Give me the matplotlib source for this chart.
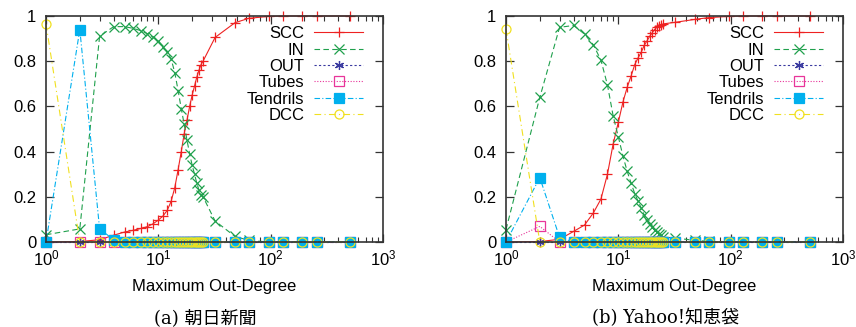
import numpy as np
import matplotlib
matplotlib.use("Agg")
import matplotlib.pyplot as plt
from matplotlib.ticker import LogLocator, FixedLocator, FuncFormatter, NullFormatter

plt.rcParams['font.family'] = ['Liberation Sans', 'DejaVu Sans']
plt.rcParams['font.size'] = 12

# x = maximum out-degree
degree = [1, 2, 3, 4, 5, 6, 7, 8, 9, 10, 11, 12, 13, 14, 15, 16, 17, 18, 19,
          20, 21, 22, 23, 24, 25, 32, 48, 64, 96, 128, 192, 256, 512]

# (a) Asahi
scc_a = [0, 0.002, 0.01, 0.03, 0.044, 0.052, 0.06, 0.068, 0.081, 0.097, 0.115,
         0.14, 0.18, 0.24, 0.32, 0.40, 0.48, 0.54, 0.60, 0.65, 0.69, 0.73, 0.76,
         0.785, 0.80, 0.905, 0.97, 0.99, 0.998, 1.0, 1.0, 1.0, 1.0]
in_a = [0.032, 0.058, 0.91, 0.953, 0.953, 0.945, 0.935, 0.922, 0.906, 0.89,
        0.865, 0.84, 0.81, 0.75, 0.67, 0.59, 0.52, 0.45, 0.39, 0.34, 0.30, 0.26,
        0.23, 0.21, 0.20, 0.093, 0.025, 0.007, 0, 0, 0, 0, 0]
out_a = [0] * 33
tubes_a = [0] * 33
tendrils_a = [0, 0.94, 0.058, 0.01] + [0] * 29
dcc_a = [0.965] + [0] * 32

# (b) Yahoo! Chiebukuro
scc_b = [0, 0.002, 0.012, 0.047, 0.075, 0.129, 0.19, 0.30, 0.435, 0.53, 0.62,
         0.685, 0.735, 0.785, 0.815, 0.84, 0.87, 0.89, 0.91, 0.925, 0.94, 0.95,
         0.955, 0.96, 0.965, 0.972, 0.985, 0.993, 0.998, 1.0, 1.0, 1.0, 1.0]
in_b = [0.055, 0.64, 0.95, 0.958, 0.92, 0.872, 0.805, 0.695, 0.557, 0.465, 0.38,
        0.312, 0.26, 0.214, 0.18, 0.15, 0.12, 0.097, 0.08, 0.065, 0.052, 0.043,
        0.035, 0.03, 0.022, 0.018, 0.007, 0.003, 0, 0, 0, 0, 0]
out_b = [0] * 33
tubes_b = [0, 0.069] + [0] * 31
tendrils_b = [0, 0.285, 0.02] + [0] * 30
dcc_b = [0.941] + [0] * 32

labels = ["SCC", "IN", "OUT", "Tubes", "Tendrils", "DCC"]
colors = ["#ee2222", "#1fa04c", "#3a3aa0", "#e8359a", "#00b0ee", "#f0e020"]
markers = ["+", "x", (6, 2, 0), "s", "s", "o"]
fills = ["full", "full", "full", "none", "full", "none"]
dashes = [None, (5, 3), (2, 2), (1, 1.5), (5, 2, 1, 2), (6, 3, 1, 3)]

fig = plt.figure(figsize=(8.56, 3.27), dpi=100)


def draw(ax, series):
    for vals, lab, c, m, fs, d in zip(series, labels, colors, markers, fills, dashes):
        line, = ax.plot(degree, vals, color=c, marker=m, fillstyle=fs, lw=0.8,
                        markersize=6.5, markeredgewidth=0.9, label=lab, clip_on=False)
        if d is not None:
            line.set_dashes(d)
    ax.set_xscale("log")
    ax.set_xlim(1, 1000)
    ax.set_ylim(0, 1)
    ax.xaxis.set_major_locator(LogLocator(base=10, numticks=10))
    ax.xaxis.set_minor_locator(LogLocator(base=10, subs=np.arange(2, 10), numticks=20))
    ax.xaxis.set_minor_formatter(NullFormatter())
    ax.yaxis.set_major_locator(FixedLocator([0, 0.2, 0.4, 0.6, 0.8, 1.0]))
    ax.yaxis.set_major_formatter(FuncFormatter(lambda v, p: "%g" % v))
    ax.tick_params(which="both", direction="in", top=True, right=True, color="#333333")
    ax.tick_params(which="major", length=6, width=0.9)
    ax.tick_params(which="minor", length=3.5, width=0.8)
    ax.tick_params(axis="y", pad=7)
    ax.tick_params(axis="x", pad=5)
    for s in ax.spines.values():
        s.set_linewidth(1.2)
        s.set_color("#333333")
    ax.set_xlabel("Maximum Out-Degree", labelpad=7)
    ax.legend(loc="upper right", bbox_to_anchor=(0.94, 0.955), frameon=False,
              markerfirst=False, borderpad=0, borderaxespad=0, handlelength=2.9,
              handletextpad=0.6, labelspacing=0.08, fontsize=12)


ax1 = fig.add_axes([46 / 856, 85 / 327, 337 / 856, 226 / 327])
draw(ax1, [scc_a, in_a, out_a, tubes_a, tendrils_a, dcc_a])
ax2 = fig.add_axes([506 / 856, 85 / 327, 337 / 856, 226 / 327])
draw(ax2, [scc_b, in_b, out_b, tubes_b, tendrils_b, dcc_b])

cap_font = ["DejaVu Serif", "Noto Sans CJK JP"]
fig.text(205 / 856, 1 - 318 / 327, "(a) 朝日新聞", ha="center", va="center",
         family=cap_font, fontsize=13)
fig.text(666 / 856, 1 - 318 / 327, "(b) Yahoo!知恵袋", ha="center", va="center",
         family=cap_font, fontsize=13)

fig.savefig("out.png", dpi=100)
